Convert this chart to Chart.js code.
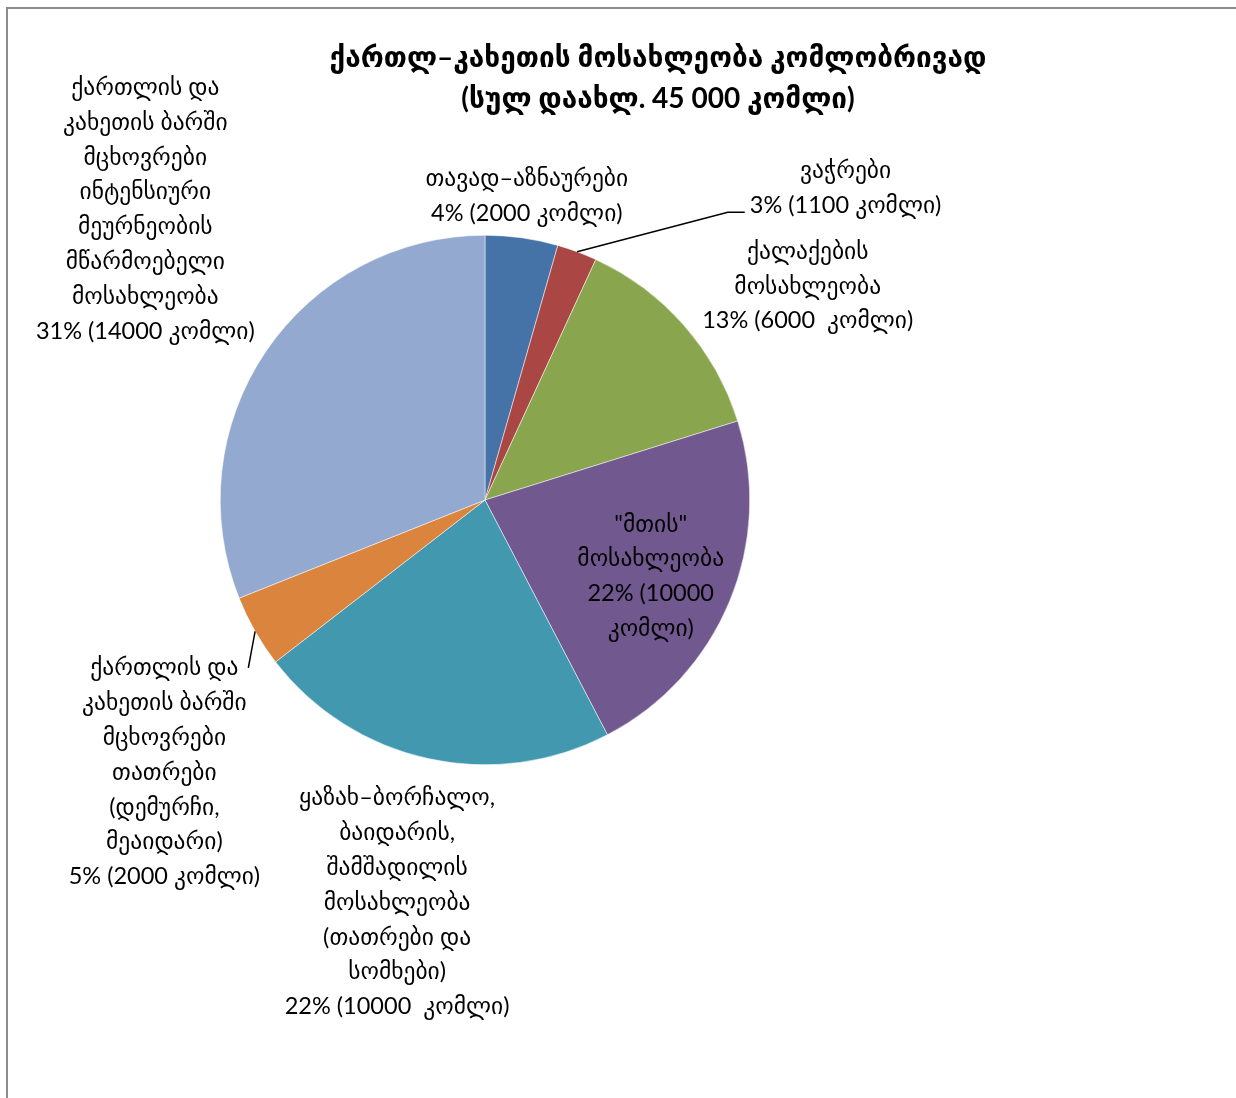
<!DOCTYPE html>
<html>
<head>
<meta charset="utf-8">
<script src="https://cdn.jsdelivr.net/npm/chart.js@4.4.1/dist/chart.umd.min.js"></script>
<style>
    html, body { margin: 0; padding: 0; background: #fff; }
    #wrap { position: relative; width: 1236px; height: 1098px; overflow: hidden; }
    #frame {
        position: absolute; left: 6px; top: 7px; width: 1300px; height: 1200px;
        border-top: 2px solid #8c8c8c; border-left: 2px solid #8c8c8c;
    }
    #chart { position: absolute; left: 0; top: 0; }
</style>
</head>
<body>
<div id="wrap">
    <div id="frame"></div>
    <canvas id="chart" width="1236" height="1098"></canvas>
</div>
<script>
// Households (კომლი) by population group, Kartli-Kakheti
const categories = [
    'თავად–აზნაურები',
    'ვაჭრები',
    'ქალაქების\nმოსახლეობა',
    '"მთის"\nმოსახლეობა',
    'ყაზახ–ბორჩალო,\nბაიდარის,\nშამშადილის\nმოსახლეობა\n(თათრები და\nსომხები)',
    'ქართლის და\nკახეთის ბარში\nმცხოვრები\nთათრები\n(დემურჩი,\nმეაიდარი)',
    'ქართლის და\nკახეთის ბარში\nმცხოვრები\nინტენსიური\nმეურნეობის\nმწარმოებელი\nმოსახლეობა'
];
const households = [2000, 1100, 6000, 10000, 10000, 2000, 14000];
const percentLabels = [
    '4% (2000 კომლი)',
    '3% (1100 კომლი)',
    '13% (6000  კომლი)',
    '22% (10000\nკომლი)',
    '22% (10000  კომლი)',
    '5% (2000 კომლი)',
    '31% (14000 კომლი)'
];
const colors = ['#4572A7', '#AA4643', '#89A54E', '#71588F', '#4198AF', '#DB843D', '#93A9CF'];
const titleLines = ['ქართლ–კახეთის მოსახლეობა კომლობრივად', '(სულ დაახლ. 45 000 კომლი)'];

// label anchor (centre x, first line y) in pie-radius units from the pie centre
const labelPos = [
    [0.158, -1.215], [1.362, -1.245], [1.219, -0.94], [0.626, 0.091],
    [-0.332, 1.125], [-1.211, 0.634], [-1.283, -1.558]
];
// leader lines: points after the arc edge, in radius units
const leaders = { 1: [[0.917, -1.087], [0.981, -1.087]], 5: [[-0.894, 0.634]] };

const FONT = "Lato, 'DejaVu Sans', sans-serif";

const labelPlugin = {
    id: 'pieLabels',
    afterDatasetsDraw(chart) {
        const ctx = chart.ctx;
        const meta = chart.getDatasetMeta(0);
        ctx.save();
        ctx.fillStyle = '#000';
        ctx.textAlign = 'center';
        ctx.textBaseline = 'middle';

        // title
        ctx.font = "bold 28px " + FONT;
        ctx.fillText(titleLines[0], 658, 58);
        ctx.fillText(titleLines[1], 658, 99);

        ctx.font = "23.5px " + FONT;
        meta.data.forEach((arc, i) => {
            const cx = arc.x, cy = arc.y, r = arc.outerRadius;
            const lines = categories[i].split('\n').concat(percentLabels[i].split('\n'));
            const lx = cx + labelPos[i][0] * r;
            const ly = cy + labelPos[i][1] * r;
            lines.forEach((t, k) => ctx.fillText(t, lx, ly + k * 34.8));

            if (leaders[i]) {
                const mid = (arc.startAngle + arc.endAngle) / 2;
                ctx.beginPath();
                ctx.strokeStyle = '#000';
                ctx.lineWidth = 1.5;
                ctx.moveTo(cx + r * Math.cos(mid), cy + r * Math.sin(mid));
                leaders[i].forEach(p => ctx.lineTo(cx + p[0] * r, cy + p[1] * r));
                ctx.stroke();
            }
        });
        ctx.restore();
    }
};

new Chart(document.getElementById('chart'), {
    type: 'pie',
    data: {
        labels: categories,
        datasets: [{
            data: households,
            backgroundColor: colors,
            borderColor: '#ffffff',
            borderWidth: 0.5
        }]
    },
    options: {
        responsive: false,
        animation: false,
        layout: { padding: { left: 220, right: 486, top: 235, bottom: 333 } },
        plugins: {
            legend: { display: false },
            tooltip: { enabled: false },
            title: { display: false }
        }
    },
    plugins: [labelPlugin]
});
</script>
</body>
</html>
